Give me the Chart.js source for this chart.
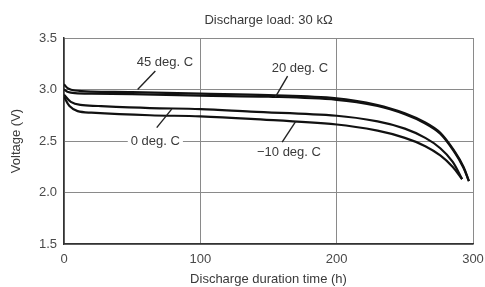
<!DOCTYPE html>
<html>
<head>
<meta charset="utf-8">
<script src="https://cdn.jsdelivr.net/npm/chart.js@4"></script>
<style>
  html, body { margin: 0; padding: 0; background: #fff; }
  #wrap { width: 485px; height: 287px; }
</style>
</head>
<body>
<div id="wrap"><canvas id="chart" width="485" height="287"></canvas></div>
<script>
// discharge curves (hours, volts)
const t45 = [0, 3, 8, 20, 50, 100, 150, 200, 230, 250, 265, 276, 287, 293, 297]
const v45 = [3.05, 3.01, 2.99, 2.98, 2.975, 2.96, 2.945, 2.915, 2.85, 2.77, 2.68, 2.58, 2.39, 2.25, 2.11]
const t20 = [0, 3, 8, 20, 50, 100, 150, 200, 230, 250, 265, 276, 287, 293, 297]
const v20 = [3.00, 2.975, 2.965, 2.96, 2.955, 2.94, 2.93, 2.90, 2.84, 2.76, 2.67, 2.57, 2.38, 2.24, 2.11]
const t0 = [0, 5, 12, 25, 63, 100, 137, 200, 230, 250, 265, 276, 285, 292]
const v0 = [2.95, 2.88, 2.85, 2.84, 2.82, 2.81, 2.785, 2.745, 2.69, 2.62, 2.53, 2.43, 2.30, 2.13]
const tm10 = [0, 4, 10, 20, 63, 100, 137, 200, 230, 250, 265, 276, 285, 292]
const vm10 = [2.93, 2.84, 2.79, 2.775, 2.75, 2.74, 2.715, 2.66, 2.60, 2.53, 2.45, 2.36, 2.25, 2.13]

const xTicks = [0, 100, 200, 300]
const yTicks = [1.5, 2.0, 2.5, 3.0, 3.5]

// label text, text anchor and leader line ends, in data units
const labels = [
  {text: '45 deg. C', tx: 74, ty: 3.26, x1: 67, y1: 3.18, x2: 54, y2: 3.0},
  {text: '20 deg. C', tx: 173, ty: 3.20, x1: 164, y1: 3.13, x2: 155, y2: 2.925},
  {text: '0 deg. C', tx: 67, ty: 2.5, x1: 68, y1: 2.63, x2: 79, y2: 2.81},
  {text: '\u221210 deg. C', tx: 165, ty: 2.39, x1: 160, y1: 2.49, x2: 170, y2: 2.69}
]

const FONT = '"Liberation Sans", Arial, sans-serif'

function pts(ts, vs) {
  return ts.map((t, i) => ({x: t, y: vs[i]}))
}

const mkSet = (ts, vs) => ({
  data: pts(ts, vs),
  showLine: true,
  borderColor: '#111',
  borderWidth: 2.2,
  pointRadius: 0,
  tension: 0.35,
  fill: false
})

const notes = {
  id: 'notes',
  afterDatasetsDraw(chart) {
    const ctx = chart.ctx
    const xs = chart.scales.x, ys = chart.scales.y
    ctx.save()
    ctx.font = '13px ' + FONT
    ctx.textAlign = 'center'
    ctx.textBaseline = 'middle'
    labels.forEach(l => {
      const px = xs.getPixelForValue(l.tx), py = ys.getPixelForValue(l.ty)
      const w = ctx.measureText(l.text).width
      ctx.fillStyle = '#fff'
      ctx.fillRect(px - w / 2 - 3, py - 7, w + 6, 14)
      ctx.fillStyle = '#3a3a3a'
      ctx.fillText(l.text, px, py)
      ctx.strokeStyle = '#222'
      ctx.lineWidth = 1.4
      ctx.beginPath()
      ctx.moveTo(xs.getPixelForValue(l.x1), ys.getPixelForValue(l.y1))
      ctx.lineTo(xs.getPixelForValue(l.x2), ys.getPixelForValue(l.y2))
      ctx.stroke()
    })
    // title
    const a = chart.chartArea
    ctx.fillStyle = '#3a3a3a'
    ctx.fillText('Discharge load: 30 k\u03A9', (a.left + a.right) / 2, 20)
    ctx.restore()
  }
}

new Chart(document.getElementById('chart').getContext('2d'), {
  type: 'scatter',
  data: {
    datasets: [mkSet(t45, v45), mkSet(t20, v20), mkSet(t0, v0), mkSet(tm10, vm10)]
  },
  options: {
    responsive: false,
    animation: false,
    layout: {padding: {top: 38, right: 12, left: 0, bottom: 0}},
    plugins: {legend: {display: false}, tooltip: {enabled: false}, title: {display: false}},
    scales: {
      x: {
        type: 'linear', min: 0, max: 300,
        afterBuildTicks: s => { s.ticks = xTicks.map(v => ({value: v})) },
        afterFit: s => { s.height = 43; s.paddingRight = 0; s.paddingLeft = 0 },
        grid: {color: '#8a8a8a', lineWidth: 1, drawTicks: false},
        border: {color: '#333', width: 1.5},
        ticks: {color: '#4a4a4a', padding: 8, maxRotation: 0, font: {size: 13, family: FONT}},
        title: {display: true, text: 'Discharge duration time (h)', color: '#3a3a3a', padding: {top: 0, bottom: 0}, font: {size: 13, family: FONT}}
      },
      y: {
        type: 'linear', min: 1.5, max: 3.5,
        afterBuildTicks: s => { s.ticks = yTicks.map(v => ({value: v})) },
        afterFit: s => { s.width = 64 },
        grid: {color: '#8a8a8a', lineWidth: 1, drawTicks: false},
        border: {color: '#333', width: 1.5},
        ticks: {color: '#4a4a4a', padding: 7, callback: v => v.toFixed(1), font: {size: 13, family: FONT}},
        title: {display: true, text: 'Voltage (V)', color: '#3a3a3a', padding: {top: 9, bottom: 0}, font: {size: 13, family: FONT}}
      }
    }
  },
  plugins: [notes]
})
</script>
</body>
</html>
